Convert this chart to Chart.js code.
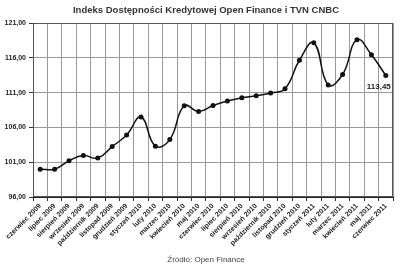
<!DOCTYPE html>
<html>
<head>
<meta charset="utf-8">
<script src="https://cdn.jsdelivr.net/npm/chart.js@4"></script>
<style>
  html, body { margin: 0; padding: 0; background: #fff; }
  #wrap { width: 400px; height: 269px; }
</style>
</head>
<body>
<div id="wrap"><canvas id="indexChart"></canvas></div>
<script>
const months = [
  "czerwiec 2009", "lipiec 2009", "sierpień 2009", "wrzesień 2009",
  "październik 2009", "listopad 2009", "grudzień 2009", "styczeń 2010",
  "luty 2010", "marzec 2010", "kwiecień 2010", "maj 2010",
  "czerwiec 2010", "lipiec 2010", "sierpień 2010", "wrzesień 2010",
  "październik 2010", "listopad 2010", "grudzień 2010", "styczeń 2011",
  "luty 2011", "marzec 2011", "kwiecień 2011", "maj 2011", "czerwiec 2011",
];
const indexValues = [
  100.0, 100.0, 101.2, 101.95, 101.6, 103.25, 104.9, 107.5,
  103.3, 104.25, 109.1, 108.3, 109.15, 109.8, 110.25, 110.55,
  110.95, 111.55, 115.65, 118.15, 112.1, 113.6, 118.6, 116.45, 113.45,
];
const yTicks = [96, 101, 106, 111, 116, 121];

const titleText = "Indeks Dostępności Kredytowej Open Finance i TVN CNBC";
const sourceText = "Źródło: Open Finance";
const fontFam = "'Liberation Sans', Arial, sans-serif";

const fmt = (v) => v.toFixed(2).replace(".", ",");

// frame, title, source and the value label on the last point
const extras = {
  id: "extras",
  afterDatasetsDraw(chart) {
    const { ctx, chartArea } = chart;
    ctx.save();
    ctx.strokeStyle = "#555";
    ctx.lineWidth = 1;
    ctx.strokeRect(chartArea.left + 0.5, chartArea.top + 0.5,
      chartArea.right - chartArea.left - 1, chartArea.bottom - chartArea.top - 1);

    const pts = chart.getDatasetMeta(0).data;
    const last = pts[pts.length - 1];
    ctx.fillStyle = "#222";
    ctx.font = "bold 8px " + fontFam;
    ctx.textAlign = "center";
    ctx.textBaseline = "middle";
    ctx.fillText(fmt(indexValues[indexValues.length - 1]), last.x - 7, last.y + 11);

    const midX = (chartArea.left + chartArea.right) / 2 - 7;
    ctx.fillStyle = "#333";
    ctx.font = "bold 9.5px " + fontFam;
    ctx.fillText(titleText, midX, 10);
    ctx.fillStyle = "#444";
    ctx.font = "8px " + fontFam;
    ctx.fillText(sourceText, midX, chart.height - 9);
    ctx.restore();
  },
};

new Chart(document.getElementById("indexChart"), {
  type: "line",
  data: {
    labels: months,
    datasets: [{
      data: indexValues,
      borderColor: "#111",
      borderWidth: 1.5,
      backgroundColor: "#111",
      pointRadius: 2.5,
      pointBackgroundColor: "#111",
      pointBorderWidth: 0,
      tension: 0.45,
      fill: false,
    }],
  },
  options: {
    responsive: true,
    maintainAspectRatio: false,
    animation: false,
    layout: { padding: { left: 0, right: 7, top: 23, bottom: 15 } },
    plugins: {
      legend: { display: false },
      tooltip: { enabled: false },
    },
    scales: {
      x: {
        offset: true,
        grid: { offset: true, color: "#999", tickLength: 4, tickColor: "#333" },
        border: { color: "#222" },
        ticks: {
          autoSkip: false,
          minRotation: 45,
          maxRotation: 45,
          padding: 1,
          color: "#222",
          font: { family: fontFam, size: 7, weight: "bold" },
        },
        afterFit(scale) { scale.height = 57; },
      },
      y: {
        min: 96,
        max: 121,
        afterBuildTicks(scale) { scale.ticks = yTicks.map((v) => ({ value: v })); },
        grid: { color: "#999", tickLength: 4, tickColor: "#333" },
        border: { color: "#222" },
        ticks: {
          padding: 3,
          color: "#222",
          font: { family: fontFam, size: 7, weight: "bold" },
          callback: (v) => fmt(v),
        },
        afterFit(scale) { scale.width = 33; },
      },
    },
  },
  plugins: [extras],
});
</script>
</body>
</html>
